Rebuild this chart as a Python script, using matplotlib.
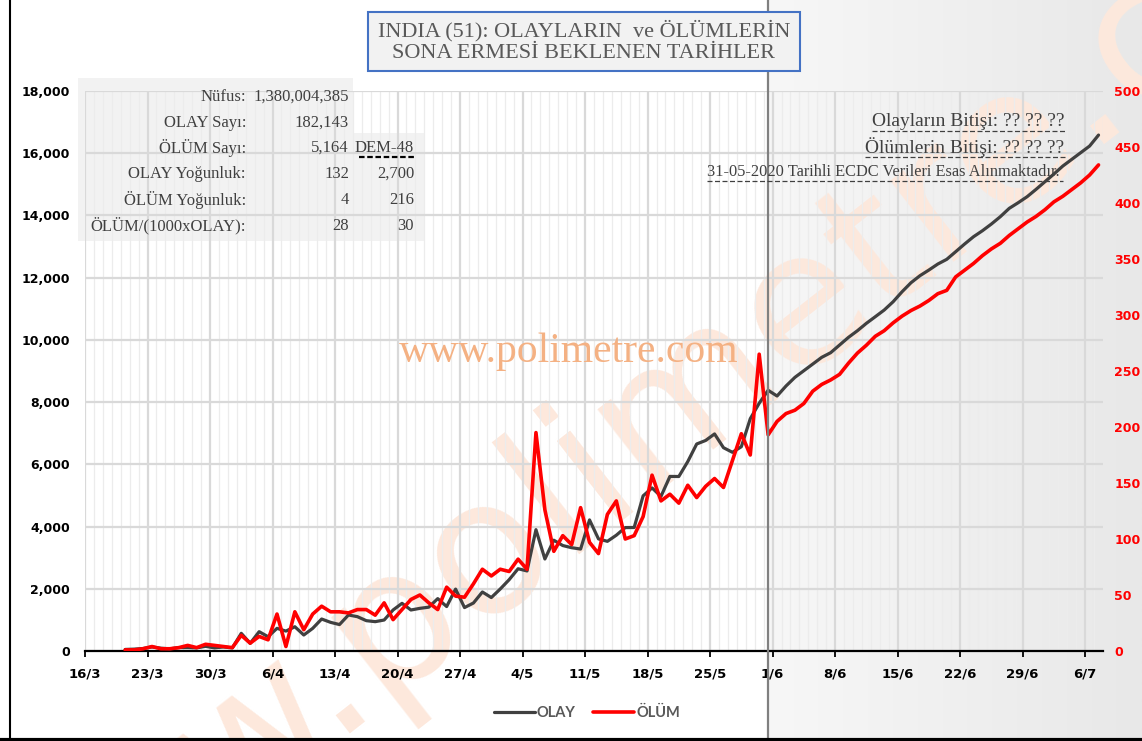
import numpy as np
import pandas as pd
import matplotlib
matplotlib.use("Agg")
import matplotlib.pyplot as plt
import matplotlib.dates as mdates
from matplotlib.patches import Rectangle
from matplotlib.lines import Line2D
from matplotlib.colors import LinearSegmentedColormap
from matplotlib.ticker import FixedLocator, FixedFormatter

# ---------------- data ----------------
start_date = "2020-03-20"
last_data_date = "2020-05-31"

olay = [50, 60, 80, 130, 90, 70, 110, 110, 100, 150, 100, 130, 100,
        568, 246, 621, 460, 728, 640, 780, 514, 728, 1028, 921, 850,
        1157, 1104, 975, 943, 996, 1318, 1532, 1318, 1371, 1409, 1684, 1429, 1990, 1396, 1543, 1897, 1718,
        1993, 2293, 2644, 2573, 3900, 2958, 3561, 3390, 3320, 3277, 4213, 3604, 3525, 3722, 3967, 3970,
        4987, 5242, 4970, 5611, 5609, 6088, 6654, 6767, 6977, 6535, 6387, 6566, 7466, 7964, 8380,
        8196, 8517, 8796, 9010, 9224, 9439, 9588, 9835, 10082, 10295, 10532, 10745, 10960, 11227,
        11548, 11838, 12063, 12245, 12438, 12589, 12834, 13081, 13316, 13509, 13724, 13960, 14228,
        14409, 14602, 14838, 15085, 15331, 15588, 15802, 16017, 16231, 16584]

olum = [1, 1, 2, 4, 2, 2, 3, 5, 3, 6, 5, 4, 3,
        14, 7, 13, 10, 33, 4, 35, 19, 33, 40, 35, 35,
        34, 37, 37, 32, 43, 28, 37, 46, 50, 43, 37, 57, 49, 48, 60, 73, 67,
        73, 71, 82, 73, 195, 126, 89, 103, 95, 128, 97, 87, 122, 134, 100, 103,
        120, 157, 134, 140, 132, 148, 137, 147, 154, 146, 170, 194, 175, 265, 193,
        205, 212, 215, 221, 232, 238, 242, 247, 257, 266, 273, 281, 286, 293,
        299, 304, 308, 313, 319, 322, 334, 340, 346, 353, 359, 364, 371,
        377, 383, 388, 394, 401, 406, 412, 418, 425, 434]

series_names = ["OLAY", "ÖLÜM"]

tick_dates = ["2020-03-16", "2020-03-23", "2020-03-30", "2020-04-06", "2020-04-13",
              "2020-04-20", "2020-04-27", "2020-05-04", "2020-05-11", "2020-05-18",
              "2020-05-25", "2020-06-01", "2020-06-08", "2020-06-15", "2020-06-22",
              "2020-06-29", "2020-07-06"]
tick_labels = ["16/3", "23/3", "30/3", "6/4", "13/4", "20/4", "27/4", "4/5", "11/5",
               "18/5", "25/5", "1/6", "8/6", "15/6", "22/6", "29/6", "6/7"]
x_start, x_end = "2020-03-16", "2020-07-08"

left_ticks = [0, 2000, 4000, 6000, 8000, 10000, 12000, 14000, 16000, 18000]
right_ticks = [0, 50, 100, 150, 200, 250, 300, 350, 400, 450, 500]

title_text = "INDIA (51): OLAYLARIN  ve ÖLÜMLERİN\nSONA ERMESİ BEKLENEN TARİHLER"
table_labels = ["Nüfus:", "OLAY Sayı:", "ÖLÜM Sayı:", "OLAY Yoğunluk:", "ÖLÜM Yoğunluk:", "ÖLÜM/(1000xOLAY):"]
table_col1 = ["1,380,004,385", "182,143", "5,164", "132", "4", "28"]
table_col2 = ["", "", "DEM-48", "2,700", "216", "30"]
info_lines = ["Olayların Bitişi: ?? ?? ??", "Ölümlerin Bitişi: ?? ?? ??",
              "31-05-2020 Tarihli ECDC Verileri Esas Alınmaktadır."]
watermark = "www.polimetre.com"

# ---------------- figure ----------------
W, H = 1142, 741
fig = plt.figure(figsize=(W / 100, H / 100), dpi=100)
fig.patch.set_facecolor("white")


def fx(px):
    return px / W


def fy(py):
    return 1 - py / H


serif = "Liberation Serif"
ax = fig.add_axes([fx(85), fy(651), fx(1103) - fx(85), fy(91) - fy(651)], zorder=1)
ax.patch.set_visible(False)
ax2 = ax.twinx()
ax2.patch.set_visible(False)

dates = pd.date_range(start_date, periods=len(olay), freq="D") + pd.Timedelta(hours=12)
ln1, = ax.plot(dates, olay, color="#404040", lw=2.3, label=series_names[0],
               solid_joinstyle="round", solid_capstyle="round", zorder=3)
ln2, = ax2.plot(dates, olum, color="#ff0000", lw=2.6, label=series_names[1],
                solid_joinstyle="round", solid_capstyle="round", zorder=3)

ax.set_xlim(pd.Timestamp(x_start), pd.Timestamp(x_end))
ax.set_ylim(left_ticks[0], left_ticks[-1])
ax2.set_ylim(right_ticks[0], right_ticks[-1])

ax.set_yticks(left_ticks)
ax.set_yticklabels([f"{v:,}" for v in left_ticks])
ax2.set_yticks(right_ticks)
ax2.set_yticklabels([str(v) for v in right_ticks])

tick_nums = [mdates.date2num(pd.Timestamp(d)) for d in tick_dates]
ax.xaxis.set_major_locator(FixedLocator(tick_nums))
ax.xaxis.set_major_formatter(FixedFormatter(tick_labels))
ax.xaxis.set_minor_locator(mdates.DayLocator())

for a in (ax, ax2):
    for s in a.spines.values():
        s.set_visible(False)
ax.spines["bottom"].set_visible(True)
ax.spines["bottom"].set_color("black")
ax.spines["bottom"].set_linewidth(1.6)

ax.tick_params(axis="y", length=0, pad=11, labelsize=9, labelcolor="black")
ax2.tick_params(axis="y", length=0, pad=8, labelsize=9, labelcolor="#ff0000")
ax.tick_params(axis="x", which="major", direction="out", length=4, width=1.3,
               color="black", pad=8, labelsize=9.5)
ax.tick_params(axis="x", which="minor", length=0)
for lab in ax.get_xticklabels() + ax.get_yticklabels() + ax2.get_yticklabels():
    lab.set_fontweight("bold")
    lab.set_family("DejaVu Sans")

ax.set_axisbelow(True)
ax.grid(axis="y", color="#d9d9d9", lw=1.6)
ax.grid(axis="x", which="major", color="#d9d9d9", lw=1.6)
ax.grid(axis="x", which="minor", color="#ececec", lw=0.9)

# shaded forecast region + divider line
line_dt = mdates.date2num(pd.Timestamp(last_data_date) + pd.Timedelta(hours=12))
x_fig = fig.transFigure.inverted().transform(ax.transData.transform((line_dt, 0)))[0]
bg = fig.add_axes([x_fig, 0, 1 - x_fig, 1], zorder=-5)
grad_cmap = LinearSegmentedColormap.from_list("g", ["#f7f7f7", "#e8e8e8"])
bg.imshow(np.linspace(0, 1, 256)[None, :], cmap=grad_cmap, aspect="auto", extent=[0, 1, 0, 1])
bg.axis("off")
fig.add_artist(Line2D([x_fig, x_fig], [fy(738), 1], color="#808080", lw=1.6, zorder=2))

# big diagonal watermark
fig.text(0.6, 0.46, watermark, rotation=38, fontsize=135, color="#fde8dc",
         ha="center", va="center", fontweight="normal", family="DejaVu Sans", zorder=-3)

# table background
fig.add_artist(Rectangle((fx(78), fy(133)), fx(353) - fx(78), fy(78) - fy(133),
                         transform=fig.transFigure, facecolor="#f2f2f2", edgecolor="none", zorder=-2))
fig.add_artist(Rectangle((fx(78), fy(241)), fx(425) - fx(78), fy(133) - fy(241),
                         transform=fig.transFigure, facecolor="#f2f2f2", edgecolor="none", zorder=-2))

row_y = [97, 123, 148, 174, 200, 226]
for i, yy in enumerate(row_y):
    fig.text(fx(246), fy(yy), table_labels[i], ha="right", va="center", fontsize=12,
             family=serif, color="#404040", zorder=6)
    fig.text(fx(349), fy(yy), table_col1[i], ha="right", va="center", fontsize=12,
             family=serif, color="#404040", zorder=6)
    if table_col2[i]:
        fig.text(fx(414), fy(yy), table_col2[i], ha="right", va="center", fontsize=12,
                 family=serif, color="#404040", zorder=6)
fig.add_artist(Line2D([fx(359), fx(414)], [fy(157), fy(157)], color="black", lw=1.6,
                      ls=(0, (2.5, 1.2)), zorder=6))

# info lines top-right
info_specs = [(1064, 122, 14, 131), (1064, 147, 14, 157), (1060, 172, 11.8, 181)]
for txt, (xr, yy, fs, uy) in zip(info_lines, info_specs):
    t = fig.text(fx(xr), fy(yy), txt, ha="right", va="center", fontsize=fs,
                 family=serif, color="#404040", zorder=6)
    fig.canvas.draw()
    bb = t.get_window_extent()
    fig.add_artist(Line2D([bb.x0 / W, (bb.x1 + 3) / W], [fy(uy), fy(uy)], color="#404040",
                          lw=0.9, ls=(0, (4, 2)), zorder=6))

# title box
fig.add_artist(Rectangle((fx(368), fy(71)), fx(800) - fx(368), fy(12) - fy(71),
                         transform=fig.transFigure, facecolor="#f2f2f2", edgecolor="#4472c4",
                         lw=1.5, zorder=7))
fig.text(fx(584), fy(41.5), title_text, ha="center", va="center", fontsize=16,
         family=serif, color="#595959", linespacing=1.22, zorder=8)

# center watermark
fig.text(fx(569), fy(352), watermark, ha="center", va="center", fontsize=30,
         family=serif, color="#f4b183", zorder=5)

# outer frame
fig.add_artist(Line2D([fx(10), fx(10)], [fy(739), 1], color="black", lw=1.5, zorder=9))
fig.add_artist(Line2D([0, 1], [fy(739.5), fy(739.5)], color="black", lw=3, zorder=9))

# legend
handles = [ln1, ln2]
leg = fig.legend(handles, [h.get_label() for h in handles], loc="center",
                 bbox_to_anchor=(fx(587), fy(713)), ncol=2, frameon=False,
                 prop={"family": "Lato", "weight": "bold", "size": 10.5},
                 handlelength=2.8, handletextpad=0.15, columnspacing=1.2)
for t in leg.get_texts():
    t.set_color("#595959")

fig.savefig("out.png", dpi=100)
